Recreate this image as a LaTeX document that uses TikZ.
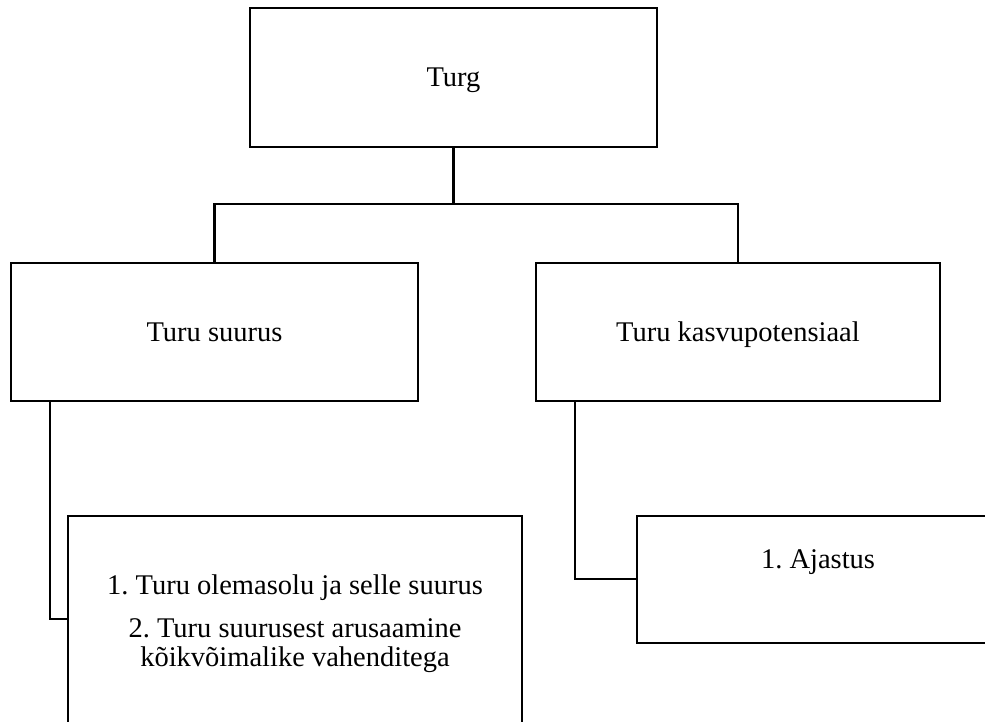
\documentclass[tikz,border=0pt]{standalone}
\usepackage{fontspec}
\setmainfont{Liberation Serif}
\frenchspacing
\begin{document}
\begin{tikzpicture}[x=1pt,y=-1pt,
  box/.style={draw,line width=2.7pt,rectangle,inner sep=0pt},
  link/.style={draw,line width=2.1pt},
  txt/.style={anchor=base,inner sep=0pt,font=\fontsize{28.5}{29}\selectfont}]
\clip (0,0) rectangle (985,722);
\fill[white] (0,0) rectangle (985,722);

% top level
\node[box,minimum width=407pt,minimum height=139pt] (turg) at (453.5,77.5) {};
\node[txt] (turgtxt) at (453.5,87) {Turg};

% second level
\node[box,minimum width=407pt,minimum height=138pt] (suurus) at (214.5,332) {};
\node[txt] (suurustxt) at (214.5,341) {Turu suurus};
\node[box,minimum width=404pt,minimum height=138pt] (kasvu) at (738,332) {};
\node[txt] (kasvutxt) at (738,341) {Turu kasvupotensiaal};

% third level (boxes run past the picture edge)
\node[box,minimum width=454pt,minimum height=260pt] (list) at (295,646) {};
\node[txt] (item1) at (295,594) {1. Turu olemasolu ja selle suurus};
\node[txt] (item2) at (295,637) {2. Turu suurusest arusaamine};
\node[txt] (item2b) at (295,666) {kõikvõimalike vahenditega};
\coordinate (listin) at (68,619);

\node[box,minimum width=380pt,minimum height=127pt] (aja) at (827,579.5) {};
\node[txt] (ajatxt) at (818,568) {1. Ajastus};
\coordinate (ajain) at (637,579);

% connectors
\coordinate (bus) at (453.5,204);
\draw[link] (turg.south) -- (bus);
\draw[link] (bus) -| (suurus.north);
\draw[link] (bus) -| (kasvu.north);
\draw[link] ([xshift=40.5pt]suurus.south west) |- (listin);
\draw[link] ([xshift=40pt]kasvu.south west) |- (ajain);
\end{tikzpicture}
\end{document}
